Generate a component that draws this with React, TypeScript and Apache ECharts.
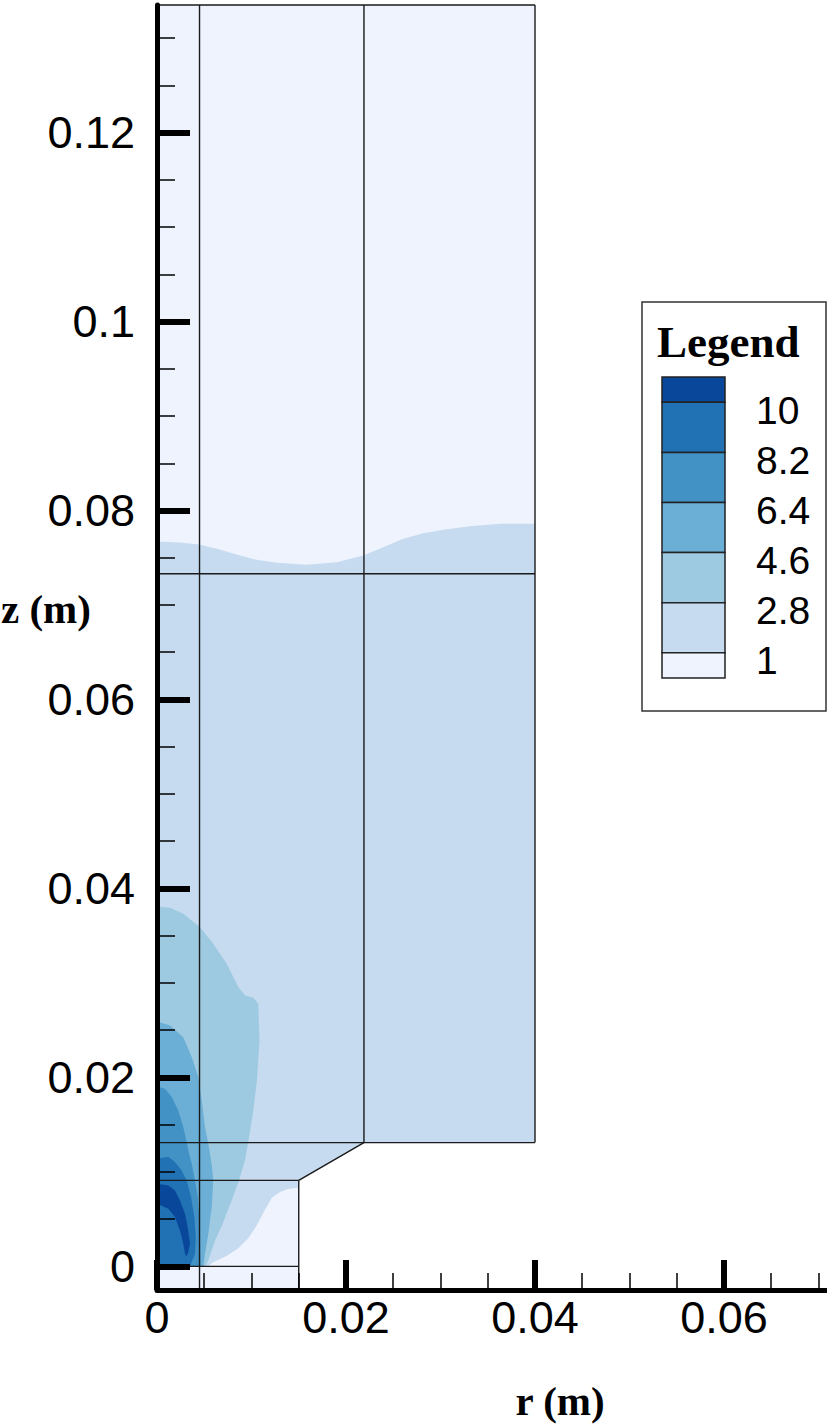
import React, { useEffect, useRef } from "react";
import * as echarts from "echarts";

// ---------- data ----------
const levels = [1, 2.8, 4.6, 6.4, 8.2, 10];
const bandColors = ["#EEF3FD", "#C6DBEF", "#9ECAE1", "#6BAED6", "#4292C6", "#2171B5", "#08479A"];

const xTicks = [0, 0.02, 0.04, 0.06];
const xTickLabels = ["0", "0.02", "0.04", "0.06"];
const xMinorTicks = [0.005, 0.01, 0.015, 0.025, 0.03, 0.035, 0.045, 0.05, 0.055, 0.065, 0.07];
const zTicks = [0, 0.02, 0.04, 0.06, 0.08, 0.1, 0.12];
const zTickLabels = ["0", "0.02", "0.04", "0.06", "0.08", "0.1", "0.12"];
const zMinorTicks = [
  0.005, 0.01, 0.015, 0.025, 0.03, 0.035, 0.045, 0.05, 0.055, 0.065, 0.07, 0.075,
  0.085, 0.09, 0.095, 0.105, 0.11, 0.115, 0.125, 0.13,
];

// whole computational domain (value < 1 background)
const domainPoly = [
  [0, -0.0025], [0.015, -0.0025], [0.015, 0.0091], [0.0219, 0.0131],
  [0.04, 0.0131], [0.04, 0.1335], [0, 0.1335],
];
// region >= 1
const level1Poly = [
  [0, 0], [0.0054, 0], [0.0059, 0.00042], [0.0073, 0.00106], [0.00857, 0.0019],
  [0.00963, 0.00296], [0.01048, 0.00423], [0.01132, 0.00582], [0.01217, 0.0073],
  [0.01302, 0.00788], [0.01386, 0.0082], [0.015, 0.00836], [0.015, 0.0091],
  [0.0219, 0.0131], [0.04, 0.0131], [0.04, 0.07859], [0.0363, 0.07859],
  [0.03312, 0.07834], [0.0303, 0.07796], [0.02818, 0.0776], [0.02606, 0.07701],
  [0.02395, 0.07612], [0.02183, 0.07524], [0.01902, 0.07453], [0.01584, 0.07425],
  [0.01267, 0.07447], [0.01055, 0.07478], [0.00843, 0.07534], [0.00632, 0.07595],
  [0.00448, 0.0764], [0.00243, 0.07661], [0, 0.07672],
];
// region >= 2.8
const level28Poly = [
  [0, 0], [0.0051, 0], [0.00543, 0.00063], [0.00614, 0.00275], [0.00688, 0.00434],
  [0.0079, 0.00698], [0.00868, 0.0091], [0.00931, 0.01122], [0.00966, 0.01315],
  [0.01019, 0.01651], [0.01058, 0.01968], [0.01085, 0.02392], [0.01072, 0.0278],
  [0.01019, 0.02843], [0.00931, 0.02868], [0.0086, 0.02956], [0.00738, 0.03203],
  [0.00596, 0.03415], [0.00455, 0.0359], [0.00278, 0.03732], [0.00138, 0.03796],
  [0, 0.0381],
];
// region >= 4.6
const level46Poly = [
  [0, 0], [0.0049, 0], [0.00508, 0.00134], [0.00543, 0.00346], [0.00579, 0.00628],
  [0.00596, 0.0091], [0.00579, 0.01069], [0.0055, 0.01262], [0.00508, 0.01474],
  [0.00473, 0.01757], [0.00437, 0.02003], [0.00367, 0.02215], [0.00278, 0.02426],
  [0.00138, 0.0255], [0, 0.02593],
];
// region >= 6.4
const level64Poly = [
  [0, 0], [0.0046, 0], [0.00455, 0.00275], [0.00448, 0.00522], [0.00431, 0.00733],
  [0.00402, 0.0091], [0.00367, 0.0109], [0.00331, 0.01228], [0.00314, 0.01312],
  [0.00278, 0.01474], [0.00225, 0.01651], [0.00156, 0.01792], [0.00085, 0.0188],
  [0, 0.01905],
];
// region >= 8.2
const level82Poly = [
  [0, 0], [0.0035, 0], [0.00367, 0.00046], [0.00402, 0.00134], [0.0041, 0.0031],
  [0.00395, 0.00522], [0.0036, 0.00733], [0.00314, 0.0091], [0.00261, 0.01016],
  [0.0019, 0.01104], [0.0012, 0.01157], [0, 0.01143],
];
// region >= 10 (crescent)
const level10Poly = [
  [0, 0.00875], [0.0012, 0.00857], [0.0019, 0.00804], [0.00243, 0.00698],
  [0.00296, 0.00558], [0.00331, 0.00381], [0.00349, 0.0024], [0.00331, 0.00148],
  [0.00312, 0.00106], [0.00296, 0.00134], [0.00278, 0.0024], [0.00243, 0.00381],
  [0.0019, 0.00522], [0.0012, 0.00611], [0, 0.00663],
];

const bandPolys = [domainPoly, level1Poly, level28Poly, level46Poly, level64Poly, level82Poly, level10Poly];

// mesh / block boundaries [r1, z1, r2, z2]
const meshSegments = [
  [0.0045, -0.0025, 0.0045, 0.1335],
  [0.0219, 0.0131, 0.0219, 0.1335],
  [0, 0.0733, 0.04, 0.0733],
  [0, 0.0131, 0.04, 0.0131],
  [0, 0.0091, 0.015, 0.0091],
  [0, 0, 0.015, 0],
  [0.015, -0.0025, 0.015, 0.0091],
  [0.015, 0.0091, 0.0219, 0.0131],
  [0.04, 0.0131, 0.04, 0.1335],
  [0, 0.1335, 0.04, 0.1335],
];

const X_MIN = 0, X_MAX = 0.0709, Z_MIN = -0.0025, Z_MAX = 0.1335;

function fmt(ticks: number[], labels: string[]) {
  return (v: number) => {
    const i = ticks.findIndex((t) => Math.abs(t - v) < 1e-9);
    return i >= 0 ? labels[i] : "";
  };
}

export default function App() {
  const ref = useRef<HTMLDivElement>(null);
  useEffect(() => {
    document.body.style.margin = "0";
    const chart = echarts.init(ref.current!, null, { renderer: "svg" });

    const legendX = 662, legendW = 63, legendTop = 377, firstH = 25.3, step = 50.1;
    const legendEls: any[] = [
      { type: "rect", shape: { x: 642, y: 302, width: 184, height: 409 }, style: { fill: "#fff", stroke: "#333", lineWidth: 1.5 }, z: 20 },
      { type: "text", x: 657, y: 342, style: { text: "Legend", font: "bold 45px 'Liberation Serif', 'Times New Roman', serif", fill: "#000", textVerticalAlign: "middle" }, z: 21 },
    ];
    const nB = bandColors.length;
    for (let k = 0; k < nB; k++) {
      const color = bandColors[nB - 1 - k];
      const y0 = k === 0 ? legendTop : legendTop + firstH + (k - 1) * step;
      const h = k === 0 || k === nB - 1 ? firstH : step;
      legendEls.push({ type: "rect", shape: { x: legendX, y: y0, width: legendW, height: h }, style: { fill: color, stroke: "#222", lineWidth: 1.5 }, z: 21 });
    }
    for (let j = 0; j < levels.length; j++) {
      const lv = levels[levels.length - 1 - j];
      const yb = legendTop + firstH + j * step;
      legendEls.push({ type: "text", x: 756, y: yb + 8, style: { text: String(lv), font: "39px 'Liberation Sans', Arial, sans-serif", fill: "#000", textVerticalAlign: "middle" }, z: 21 });
    }

    const axisFont = { fontSize: 45, color: "#000", fontFamily: "'Liberation Sans', Arial, sans-serif" };

    chart.setOption({
      animation: false,
      grid: { left: 157, right: 0, top: 5, bottom: 137, containLabel: false },
      xAxis: [
        {
          type: "value", min: X_MIN, max: X_MAX, position: "bottom", z: 10,
          axisLine: { show: true, onZero: false, lineStyle: { color: "#000", width: 5 } },
          axisTick: { show: true, inside: true, length: 30, lineStyle: { color: "#000", width: 6 }, customValues: xTicks },
          axisLabel: { show: true, customValues: xTicks, formatter: fmt(xTicks, xTickLabels), margin: 5, ...axisFont },
          splitLine: { show: false },
        },
        {
          type: "value", min: X_MIN, max: X_MAX, position: "bottom", z: 10,
          axisLine: { show: false, onZero: false },
          axisTick: { show: true, inside: true, length: 17, lineStyle: { color: "#000", width: 1.5 }, customValues: xMinorTicks },
          axisLabel: { show: false },
          splitLine: { show: false },
        },
      ],
      yAxis: [
        {
          type: "value", min: Z_MIN, max: Z_MAX, position: "left", z: 10,
          axisLine: { show: true, onZero: false, lineStyle: { color: "#000", width: 5 } },
          axisTick: { show: true, inside: true, length: 33, lineStyle: { color: "#000", width: 6 }, customValues: zTicks },
          axisLabel: { show: true, customValues: zTicks, formatter: fmt(zTicks, zTickLabels), margin: 22, ...axisFont },
          splitLine: { show: false },
        },
        {
          type: "value", min: Z_MIN, max: Z_MAX, position: "left", z: 10,
          axisLine: { show: false, onZero: false },
          axisTick: { show: true, inside: true, length: 18, lineStyle: { color: "#000", width: 1.5 }, customValues: zMinorTicks },
          axisLabel: { show: false },
          splitLine: { show: false },
        },
      ],
      series: [
        {
          type: "custom",
          xAxisIndex: 0, yAxisIndex: 0,
          z: 1,
          clip: false,
          data: bandPolys.map((_, i) => [0, 0, i]),
          renderItem: (params: any, api: any) => {
            const poly = bandPolys[params.dataIndex];
            return {
              type: "polygon",
              shape: { points: poly.map((p) => api.coord(p)) },
              style: { fill: bandColors[params.dataIndex], stroke: null },
            };
          },
        },
        {
          type: "custom",
          xAxisIndex: 0, yAxisIndex: 0,
          z: 2,
          clip: false,
          data: meshSegments,
          renderItem: (params: any, api: any) => {
            const s = meshSegments[params.dataIndex];
            const a = api.coord([s[0], s[1]]);
            const b = api.coord([s[2], s[3]]);
            return {
              type: "line",
              shape: { x1: a[0], y1: a[1], x2: b[0], y2: b[1] },
              style: { stroke: "#1a1a1a", lineWidth: 1.4 },
            };
          },
        },
      ],
      graphic: [
        { type: "text", x: 1, y: 609, style: { text: "z (m)", font: "bold 41px 'Liberation Serif', 'Times New Roman', serif", fill: "#000", textVerticalAlign: "middle" } },
        { type: "text", x: 560, y: 1401, style: { text: "r (m)", font: "bold 41px 'Liberation Serif', 'Times New Roman', serif", fill: "#000", textAlign: "center", textVerticalAlign: "middle" } },
        ...legendEls,
      ],
    });
    return () => chart.dispose();
  }, []);
  return <div ref={ref} style={{ width: 827, height: 1427 }} />;
}
